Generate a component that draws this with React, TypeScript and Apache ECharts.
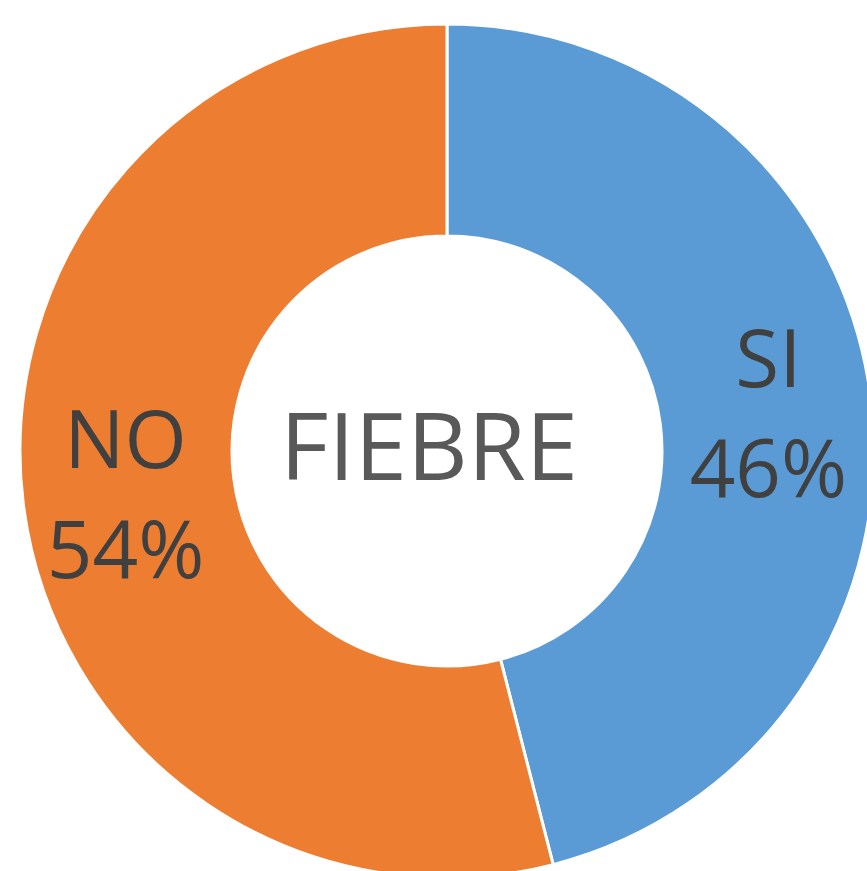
import React, { useEffect, useRef } from "react";
import * as echarts from "echarts";

const categories = ["SI", "NO"];
const values = [46, 54];
const colors = ["#5B9BD5", "#ED7D31"];
const centerTitle = "FIEBRE";

const FONT = "'Open Sans', sans-serif";

export default function App() {
  const ref = useRef<HTMLDivElement>(null);
  useEffect(() => {
    if (!ref.current) return;
    const chart = echarts.init(ref.current, undefined, { renderer: "svg" });
    const total = values.reduce((a, b) => a + b, 0);
    chart.setOption({
      animation: false,
      backgroundColor: "#ffffff",
      graphic: [
        {
          type: "text",
          x: 429,
          y: 444,
          style: {
            text: centerTitle,
            fontSize: 94,
            fontFamily: FONT,
            fill: "#595959",
            align: "center",
            verticalAlign: "middle",
          },
        },
      ],
      series: [
        {
          type: "pie",
          center: [447, 451],
          radius: [215, 427],
          startAngle: 90,
          clockwise: true,
          avoidLabelOverlap: false,
          itemStyle: { borderColor: "#ffffff", borderWidth: 3 },
          label: {
            show: true,
            position: "inside",
            formatter: (p: any) =>
              `${p.name}\n${Math.round((p.value / total) * 100)}%`,
            fontSize: 80,
            lineHeight: 110,
            fontFamily: FONT,
            color: "#404040",
          },
          labelLine: { show: false },
          data: categories.map((c, i) => ({
            name: c,
            value: values[i],
            itemStyle: { color: colors[i] },
          })),
        },
      ],
    });
    return () => chart.dispose();
  }, []);
  return (
    <div
      ref={ref}
      style={{ position: "fixed", left: 0, top: 0, width: 867, height: 871 }}
    />
  );
}
